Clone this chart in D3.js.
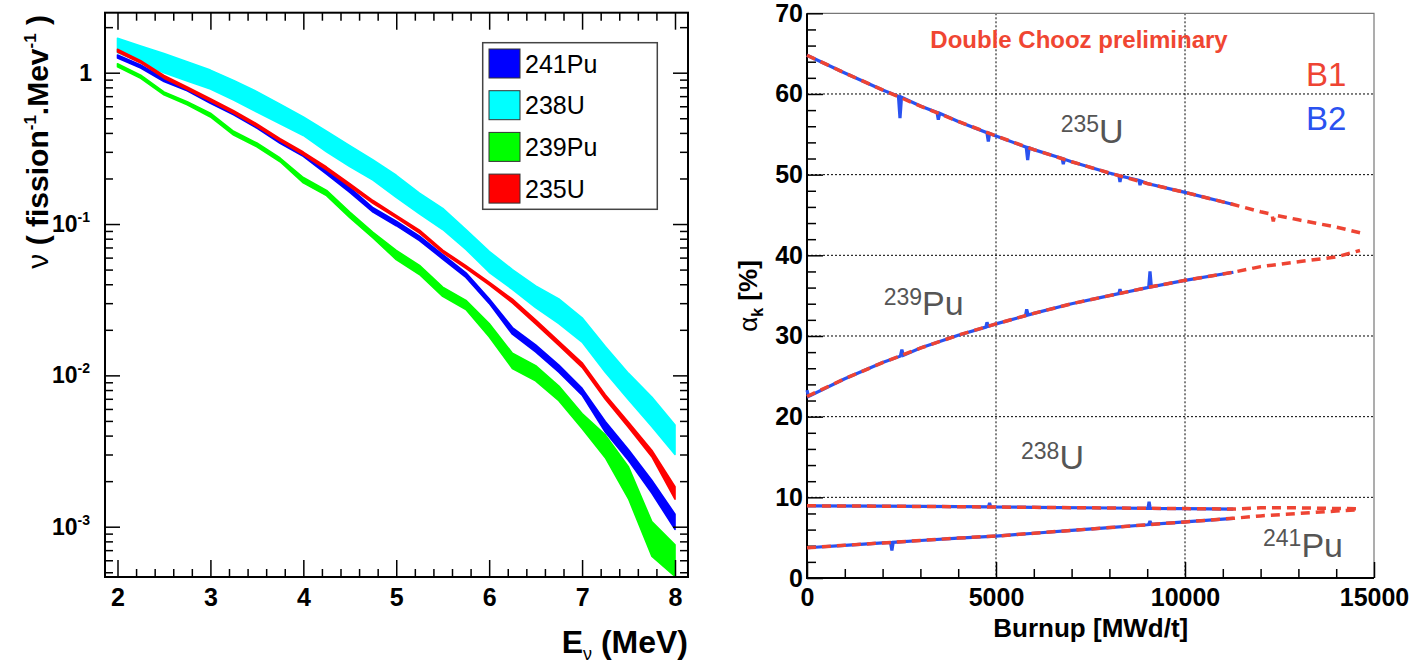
<!DOCTYPE html>
<html>
<head>
<meta charset="utf-8">
<script src="https://cdn.jsdelivr.net/npm/d3@7"></script>
<style>
  body { margin: 0; background: #fff; }
  text { font-family: "Liberation Sans", Arial, Helvetica, sans-serif; }
</style>
</head>
<body>
<div id="chart"></div>
<script>
// ---------------- data: left panel (spectra per fission, bands lo/hi) ----------------
var energies = [2, 2.25, 2.5, 2.75, 3, 3.25, 3.5, 3.75, 4, 4.25, 4.5, 4.75, 5,
                5.25, 5.5, 5.75, 6, 6.25, 6.5, 6.75, 7, 7.25, 7.5, 7.75, 8];

var u238Hi = [1.69, 1.50, 1.34, 1.18, 1.04, 0.89, 0.75, 0.62, 0.51, 0.41, 0.33, 0.265, 0.21,
              0.16, 0.127, 0.092, 0.066, 0.050, 0.039, 0.032, 0.024, 0.0155, 0.0103, 0.0072, 0.0047];
var u238Lo = [1.36, 1.17, 1.0, 0.88, 0.78, 0.66, 0.55, 0.46, 0.385, 0.30, 0.24, 0.195, 0.15,
              0.117, 0.092, 0.068, 0.048, 0.037, 0.028, 0.022, 0.0166, 0.0105, 0.0069, 0.0046, 0.0030];

var pu241Hi = [1.31, 1.125, 0.915, 0.795, 0.658, 0.551, 0.45, 0.358, 0.293, 0.23, 0.174, 0.128, 0.1045,
               0.0832, 0.0629, 0.0476, 0.0321, 0.0207, 0.0159, 0.0117, 0.0082, 0.00495, 0.00322, 0.00203, 0.00121];
var pu241Lo = [1.25, 1.075, 0.875, 0.76, 0.628, 0.527, 0.43, 0.342, 0.28, 0.214, 0.162, 0.12, 0.0975,
               0.0777, 0.0587, 0.0444, 0.0299, 0.0187, 0.0143, 0.0105, 0.0074, 0.00422, 0.00274, 0.00167, 0.00096];

var pu239Hi = [1.145, 0.962, 0.747, 0.642, 0.54, 0.41, 0.343, 0.273, 0.203, 0.167, 0.12, 0.088, 0.0669,
               0.0533, 0.0383, 0.0313, 0.022, 0.014, 0.0116, 0.0085, 0.0056, 0.00404, 0.00248, 0.00108, 0.00076];
var pu239Lo = [1.095, 0.919, 0.714, 0.614, 0.51, 0.387, 0.324, 0.258, 0.187, 0.154, 0.11, 0.081, 0.0582,
               0.0464, 0.0333, 0.0272, 0.018, 0.0111, 0.0092, 0.0068, 0.00446, 0.00286, 0.00153, 0.00064, 0.00047];

var u235Hi = [1.43, 1.2, 0.96, 0.805, 0.673, 0.561, 0.459, 0.367, 0.299, 0.238, 0.185, 0.143, 0.114,
              0.091, 0.0673, 0.053, 0.0413, 0.0319, 0.0233, 0.0168, 0.0121, 0.00745, 0.00489, 0.0032, 0.00184];
var u235Lo = [1.37, 1.16, 0.92, 0.775, 0.647, 0.539, 0.441, 0.353, 0.287, 0.228, 0.177, 0.137, 0.11,
              0.087, 0.0647, 0.051, 0.0397, 0.0301, 0.0219, 0.0158, 0.0113, 0.00695, 0.00452, 0.0029, 0.00152];

var legendNames = ["241Pu", "238U", "239Pu", "235U"];
var legendColors = ["#0000ff", "#00ffff", "#00ff00", "#ff0000"];

// ---------------- data: right panel (fission fractions vs burnup) ----------------
// B1 = red dashed, B2 = blue solid; [burnup MWd/t, alpha %]
var u235B1 = [[0, 64.8], [1000, 62.6], [2000, 60.5], [3000, 58.5], [4000, 56.6], [5000, 54.8], [6000, 53.1],
              [7000, 51.6], [8000, 50.2], [9000, 48.9], [10000, 47.8], [11280, 46.3], [12000, 45.4],
              [12300, 45.1], [12336, 44.2], [12370, 45.0], [13000, 44.4], [14000, 43.5], [14630, 42.8]];
var pu239B1 = [[0, 22.5], [1000, 24.7], [2000, 26.7], [3000, 28.5], [4000, 30.1], [5000, 31.5], [6000, 32.8],
               [7000, 34.0], [8000, 35.0], [9000, 36.0], [10000, 36.9], [11280, 37.9], [12000, 38.6],
               [13000, 39.2], [14000, 39.8], [14630, 40.6]];
var u238B1 = [[0, 8.95], [2000, 8.9], [4000, 8.84], [6000, 8.76], [8000, 8.68], [10000, 8.6], [11280, 8.55],
              [12000, 8.7], [13000, 8.7], [14000, 8.62], [14630, 8.58]];
var pu241B1 = [[0, 3.75], [1000, 4.05], [2000, 4.35], [3000, 4.65], [4000, 4.95], [5000, 5.2], [6000, 5.55],
               [7000, 5.9], [8000, 6.25], [9000, 6.6], [10000, 6.95], [11280, 7.4], [12000, 7.7],
               [13000, 8.0], [14000, 8.3], [14630, 8.45]];

var u235B2 = [[0, 64.8], [1000, 62.6], [2000, 60.5], [2420, 59.7], [2460, 57.0], [2500, 59.6], [3000, 58.5],
              [3440, 57.7], [3474, 56.8], [3510, 57.6], [4000, 56.6], [4760, 55.2], [4797, 54.1], [4830, 55.1],
              [5000, 54.8], [5800, 53.4], [5838, 51.8], [5875, 53.3], [6000, 53.1], [6750, 52.0], [6780, 51.3],
              [6810, 51.9], [7000, 51.6], [8000, 50.2], [8250, 49.9], [8280, 49.1], [8310, 49.8], [8780, 49.3],
              [8810, 48.7], [8840, 49.2], [9000, 48.9], [10000, 47.8], [11280, 46.3]];
var pu239B2 = [[0, 23.3], [40, 22.5], [1000, 24.7], [2000, 26.7], [2470, 27.5], [2510, 28.3], [2550, 27.6],
               [3000, 28.5], [4000, 30.1], [4730, 31.1], [4762, 31.7], [4800, 31.2], [5000, 31.5], [5780, 32.5],
               [5812, 33.3], [5850, 32.6], [6000, 32.8], [7000, 34.0], [8000, 35.0], [8250, 35.25], [8280, 35.8],
               [8310, 35.3], [9000, 36.0], [9040, 36.05], [9074, 38.0], [9110, 36.1], [10000, 36.9], [11280, 37.9]];
var u238B2 = [[0, 8.95], [2000, 8.9], [4000, 8.84], [4800, 8.81], [4830, 9.3], [4860, 8.81], [6000, 8.76],
              [8000, 8.68], [9020, 8.64], [9050, 9.45], [9080, 8.64], [10000, 8.6], [11280, 8.55]];
var pu241B2 = [[0, 3.75], [1000, 4.05], [2000, 4.35], [2210, 4.41], [2246, 3.4], [2280, 4.42], [3000, 4.65],
               [4000, 4.95], [5000, 5.2], [6000, 5.55], [7000, 5.9], [8000, 6.25], [9000, 6.6], [9040, 6.62],
               [9074, 7.05], [9110, 6.64], [10000, 6.95], [11280, 7.4]];

// ---------------- svg ----------------
var svgWidth = 1414;
var svgHeight = 663;

var svg = d3.select("#chart")
  .append("svg")
  .attr("width", svgWidth)
  .attr("height", svgHeight);

svg.append("rect").attr("width", svgWidth).attr("height", svgHeight).attr("fill", "#fff");

// ================= LEFT PANEL =================
var L = { left: 105, right: 688, top: 12.7, bottom: 577 };

var xL = d3.scaleLinear().domain([2, 8]).range([117.5, 675]);
var yL = d3.scaleLog().domain([1e-3, 1]).range([526.7, 72.7]);

svg.append("clipPath").attr("id", "clipL")
  .append("rect")
  .attr("x", L.left).attr("y", L.top)
  .attr("width", L.right - L.left).attr("height", L.bottom - L.top);

function bandRows(lo, hi) {
  return energies.map(function(e, i) { return { e: e, lo: lo[i], hi: hi[i] }; });
}

var band = d3.area()
  .x(d => xL(d.e))
  .y0(d => yL(d.lo))
  .y1(d => yL(d.hi));

var bandsGroup = svg.append("g").attr("clip-path", "url(#clipL)");
[[u238Lo, u238Hi, "#00ffff"], [pu239Lo, pu239Hi, "#00ff00"],
 [pu241Lo, pu241Hi, "#0000ff"], [u235Lo, u235Hi, "#ff0000"]].forEach(function(b) {
  bandsGroup.append("path")
    .datum(bandRows(b[0], b[1]))
    .attr("d", band)
    .attr("fill", b[2])
    .attr("stroke", b[2])
    .attr("stroke-width", 1.6)
    .attr("stroke-linejoin", "round");
});

// x axes (bottom with labels, top without)
var xMajor = [2, 3, 4, 5, 6, 7, 8];
var xMinor = d3.range(2, 8.001, 0.2).filter(v => Math.abs(v - Math.round(v)) > 1e-6);

svg.append("g")
  .attr("transform", `translate(0, ${L.bottom})`)
  .call(d3.axisBottom(xL).tickValues(xMajor).tickSizeInner(-17).tickSizeOuter(0).tickPadding(11)
    .tickFormat(d3.format("d")))
  .call(g => g.select(".domain").remove())
  .call(g => g.selectAll("line").attr("stroke", "#000").attr("stroke-width", 1.5))
  .call(g => g.selectAll("text").attr("fill", "#000").style("font-size", "25px").style("font-weight", "bold"));

svg.append("g")
  .attr("transform", `translate(0, ${L.bottom})`)
  .call(d3.axisBottom(xL).tickValues(xMinor).tickSizeInner(-8).tickSizeOuter(0).tickFormat(""))
  .call(g => g.select(".domain").remove())
  .call(g => g.selectAll("line").attr("stroke", "#000").attr("stroke-width", 1.5));

[[xMajor, 17], [xMinor, 8]].forEach(function(t) {
  svg.append("g")
    .attr("transform", `translate(0, ${L.top})`)
    .call(d3.axisTop(xL).tickValues(t[0]).tickSizeInner(-t[1]).tickSizeOuter(0).tickFormat(""))
    .call(g => g.select(".domain").remove())
    .call(g => g.selectAll("line").attr("stroke", "#000").attr("stroke-width", 1.5));
});

// log y axes, both sides
var yMajor = [1e-3, 1e-2, 1e-1, 1];
var yLowEdge = yL.invert(L.bottom), yHighEdge = yL.invert(L.top);
var yMinor = [];
[1e-4, 1e-3, 1e-2, 1e-1, 1].forEach(function(dec) {
  for (var k = 2; k < 10; k++) {
    var v = dec * k;
    if (v > yLowEdge && v < yHighEdge) yMinor.push(v);
  }
});

[[yMajor, 15], [yMinor, 8]].forEach(function(t) {
  svg.append("g")
    .attr("transform", `translate(${L.left}, 0)`)
    .call(d3.axisLeft(yL).tickValues(t[0]).tickSizeInner(-t[1]).tickSizeOuter(0).tickFormat(""))
    .call(g => g.select(".domain").remove())
    .call(g => g.selectAll("line").attr("stroke", "#000").attr("stroke-width", 1.5));
  svg.append("g")
    .attr("transform", `translate(${L.right}, 0)`)
    .call(d3.axisRight(yL).tickValues(t[0]).tickSizeInner(-t[1]).tickSizeOuter(0).tickFormat(""))
    .call(g => g.select(".domain").remove())
    .call(g => g.selectAll("line").attr("stroke", "#000").attr("stroke-width", 1.5));
});

// y tick labels with exponents
yMajor.forEach(function(v) {
  var t = svg.append("text")
    .attr("x", v === 1 ? 92 : 90)
    .attr("y", yL(v) + 8)
    .attr("text-anchor", "end")
    .style("font-size", "23px")
    .style("font-weight", "bold");
  if (v === 1) {
    t.text("1");
  } else {
    t.append("tspan").text("10");
    t.append("tspan").attr("dy", -10).style("font-size", "14px").text("-" + Math.round(-Math.log10(v)));
  }
});

// frame
svg.append("rect")
  .attr("x", L.left).attr("y", L.top)
  .attr("width", L.right - L.left).attr("height", L.bottom - L.top)
  .attr("fill", "none").attr("stroke", "#000").attr("stroke-width", 2);

// legend
var legend = svg.append("g");
legend.append("rect")
  .attr("x", 482.7).attr("y", 42.7).attr("width", 174.6).attr("height", 166.6)
  .attr("fill", "#fff").attr("stroke", "#444").attr("stroke-width", 1.5);
legendNames.forEach(function(name, i) {
  var y0 = 49 + i * 41.7;
  legend.append("rect")
    .attr("x", 489).attr("y", y0).attr("width", 31).attr("height", 29)
    .attr("fill", legendColors[i]).attr("stroke", "#333").attr("stroke-width", 1);
  legend.append("text")
    .attr("x", 525).attr("y", y0 + 23.7)
    .style("font-size", "25px")
    .text(name);
});

// axis titles
var yTitleL = svg.append("text")
  .attr("transform", "translate(48, 15) rotate(-90)")
  .attr("text-anchor", "end")
  .style("font-size", "30px")
  .style("font-weight", "bold");
yTitleL.append("tspan").style("font-weight", "normal").text("\u03bd");
yTitleL.append("tspan").text(" ( fission");
yTitleL.append("tspan").attr("dy", -12).style("font-size", "17px").text("-1");
yTitleL.append("tspan").attr("dy", 12).text(".Mev");
yTitleL.append("tspan").attr("dy", -12).style("font-size", "17px").text("-1");
yTitleL.append("tspan").attr("dy", 12).text(" )");

var xTitleL = svg.append("text")
  .attr("x", L.right).attr("y", 652.7)
  .attr("text-anchor", "end")
  .style("font-size", "32px")
  .style("font-weight", "bold");
xTitleL.append("tspan").text("E");
xTitleL.append("tspan").attr("dy", 7).style("font-size", "18px").style("font-weight", "normal").text("\u03bd");
xTitleL.append("tspan").attr("dy", -7).text(" (MeV)");

// ================= RIGHT PANEL =================
var R = { left: 807, right: 1374, top: 13.3, bottom: 578 };

var xR = d3.scaleLinear().domain([0, 15000]).range([R.left, R.right]);
var yR = d3.scaleLinear().domain([0, 70]).range([R.bottom, R.top]);

// grid
var gridX = [5000, 10000];
var gridY = [10, 20, 30, 40, 50, 60];
svg.append("g").selectAll("line").data(gridX).enter().append("line")
  .attr("x1", d => xR(d)).attr("x2", d => xR(d))
  .attr("y1", R.top).attr("y2", R.bottom)
  .attr("stroke", "#000").attr("stroke-width", 1).attr("stroke-dasharray", "2,2");
svg.append("g").selectAll("line").data(gridY).enter().append("line")
  .attr("x1", R.left).attr("x2", R.right)
  .attr("y1", d => yR(d)).attr("y2", d => yR(d))
  .attr("stroke", "#000").attr("stroke-width", 1).attr("stroke-dasharray", "2,2");

// frame top/right (light)
svg.append("path")
  .attr("d", `M${R.left},${R.top}H${R.right}V${R.bottom}`)
  .attr("fill", "none").attr("stroke", "#777").attr("stroke-width", 1.2);

// axes
svg.append("g")
  .attr("transform", `translate(${R.left}, 0)`)
  .call(d3.axisLeft(yR).tickValues(d3.range(0, 71, 10)).tickSizeInner(-16).tickSizeOuter(0).tickPadding(4)
    .tickFormat(d3.format("d")))
  .call(g => g.select(".domain").remove())
  .call(g => g.selectAll("line").attr("stroke", "#000").attr("stroke-width", 1.5))
  .call(g => g.selectAll("text").attr("fill", "#000").style("font-size", "25px").style("font-weight", "bold"));
svg.append("g")
  .attr("transform", `translate(${R.left}, 0)`)
  .call(d3.axisLeft(yR).tickValues(d3.range(2, 70, 2).filter(v => v % 10 !== 0)).tickSizeInner(-9).tickSizeOuter(0).tickFormat(""))
  .call(g => g.select(".domain").remove())
  .call(g => g.selectAll("line").attr("stroke", "#000").attr("stroke-width", 1.5));

svg.append("g")
  .attr("transform", `translate(0, ${R.bottom})`)
  .call(d3.axisBottom(xR).tickValues([0, 5000, 10000, 15000]).tickSizeInner(-16).tickSizeOuter(0).tickPadding(10)
    .tickFormat(d3.format("d")))
  .call(g => g.select(".domain").remove())
  .call(g => g.selectAll("line").attr("stroke", "#000").attr("stroke-width", 1.5))
  .call(g => g.selectAll("text").attr("fill", "#000").style("font-size", "25px").style("font-weight", "bold"));
svg.append("g")
  .attr("transform", `translate(0, ${R.bottom})`)
  .call(d3.axisBottom(xR).tickValues(d3.range(1000, 15000, 1000).filter(v => v % 5000 !== 0)).tickSizeInner(-9).tickSizeOuter(0).tickFormat(""))
  .call(g => g.select(".domain").remove())
  .call(g => g.selectAll("line").attr("stroke", "#000").attr("stroke-width", 1.5));

svg.append("path")
  .attr("d", `M${R.left},${R.top}V${R.bottom}H${R.right}`)
  .attr("fill", "none").attr("stroke", "#000").attr("stroke-width", 2);

// curves
var burnLine = d3.line()
  .x(d => xR(d[0]))
  .y(d => yR(d[1]));

var blueB2 = "#2a52f0";
var redB1 = "#ee4433";

[u235B2, pu239B2, u238B2, pu241B2].forEach(function(s) {
  svg.append("path").datum(s)
    .attr("d", burnLine)
    .attr("fill", "none")
    .attr("stroke", blueB2)
    .attr("stroke-width", 3.2)
    .attr("stroke-linejoin", "miter")
    .attr("stroke-miterlimit", 2);
});
[u235B1, pu239B1, u238B1, pu241B1].forEach(function(s) {
  svg.append("path").datum(s)
    .attr("d", burnLine)
    .attr("fill", "none")
    .attr("stroke", redB1)
    .attr("stroke-width", 3.5)
    .attr("stroke-dasharray", "9,6");
});

// labels
svg.append("text")
  .attr("x", 1079).attr("y", 48.3)
  .attr("text-anchor", "middle")
  .attr("fill", "#f04632")
  .style("font-size", "24px").style("font-weight", "bold")
  .text("Double Chooz preliminary");

svg.append("text").attr("x", 1306).attr("y", 86)
  .attr("fill", redB1).style("font-size", "33px").text("B1");
svg.append("text").attr("x", 1306).attr("y", 130)
  .attr("fill", blueB2).style("font-size", "33px").text("B2");

var isoLabels = [
  { mass: "235", sym: "U", x: 1060.7, y: 142.7 },
  { mass: "239", sym: "Pu", x: 883.7, y: 315 },
  { mass: "238", sym: "U", x: 1021, y: 469.3 },
  { mass: "241", sym: "Pu", x: 1263, y: 556.7 }
];
isoLabels.forEach(function(d) {
  var t = svg.append("text")
    .attr("x", d.x).attr("y", d.y)
    .attr("fill", "#555");
  t.append("tspan").attr("dy", -10.5).style("font-size", "23px").text(d.mass);
  t.append("tspan").attr("dy", 10.5).style("font-size", "34px").text(d.sym);
});

var yTitleR = svg.append("text")
  .attr("transform", "translate(757, 296) rotate(-90)")
  .attr("text-anchor", "middle")
  .style("font-size", "26px")
  .style("font-weight", "bold");
yTitleR.append("tspan").style("font-weight", "normal").text("\u03b1");
yTitleR.append("tspan").attr("dy", 6).style("font-size", "16px").text("k");
yTitleR.append("tspan").attr("dy", -6).text(" [%]");

svg.append("text")
  .attr("x", 1090.8).attr("y", 637)
  .attr("text-anchor", "middle")
  .style("font-size", "26px").style("font-weight", "bold")
  .text("Burnup [MWd/t]");
</script>
</body>
</html>
